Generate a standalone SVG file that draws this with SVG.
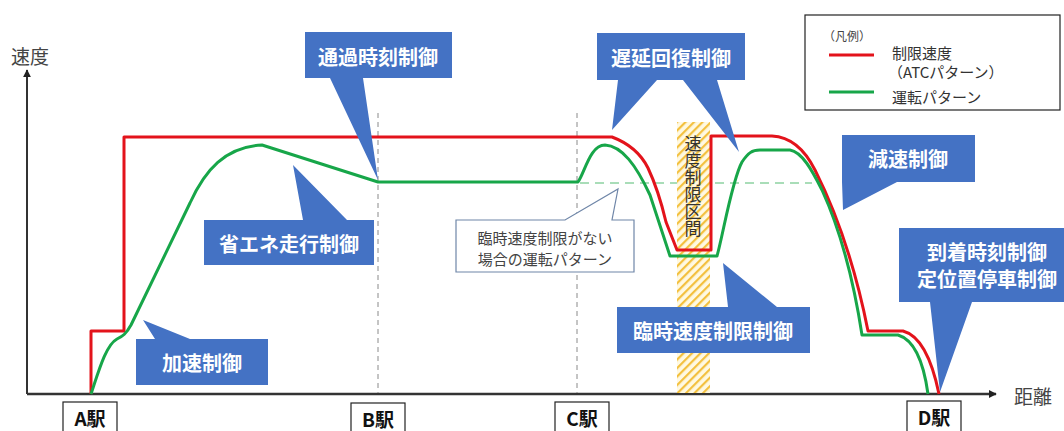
<svg xmlns="http://www.w3.org/2000/svg" width="1064" height="431" viewBox="0 0 1064 431">
<style>
.jp{font-family:"Noto Sans CJK JP","Noto Sans",sans-serif}
.co{fill:#4472C4}
.cot{fill:#fff;font-size:20px;font-weight:bold;text-anchor:middle;dominant-baseline:central}
.red{fill:none;stroke:#E3131B;stroke-width:3;stroke-linejoin:round}
.grn{fill:none;stroke:#17A649;stroke-width:3;stroke-linejoin:round}
.vd{stroke:#8a8a8a;stroke-width:1;stroke-dasharray:5,4}
.st{fill:#fff;stroke:#222;stroke-width:1.2}
.stt{fill:#111;font-size:19px;font-weight:bold;text-anchor:middle;dominant-baseline:central}
.lg{fill:#333;font-size:15px;dominant-baseline:central}
</style>
<defs>
<pattern id="hatch" width="6" height="6" patternUnits="userSpaceOnUse" patternTransform="rotate(45)">
<rect width="6" height="6" fill="#FFF9E2"/>
<rect width="2.2" height="6" fill="#F3C03E"/>
</pattern>
<marker id="arr" viewBox="0 0 10 10" refX="9" refY="5" markerWidth="8" markerHeight="8" markerUnits="userSpaceOnUse" orient="auto">
<path d="M0,0 L10,5 L0,10 Z" fill="#222"/>
</marker>
</defs>
<rect width="1064" height="431" fill="#fff"/>

<g id="axes">
<line x1="27" y1="394" x2="27" y2="70" stroke="#333" stroke-width="2" marker-end="url(#arr)"/>
<line x1="27" y1="394" x2="996" y2="394" stroke="#333" stroke-width="2.5" marker-end="url(#arr)"/>
<text class="jp" x="30" y="55" font-size="19" fill="#444" text-anchor="middle" dominant-baseline="central">速度</text>
<text class="jp" x="1033" y="395" font-size="19" fill="#444" text-anchor="middle" dominant-baseline="central">距離</text>
</g>

<g id="guides">
<line class="vd" x1="378" y1="113" x2="378" y2="393"/>
<line class="vd" x1="577" y1="113" x2="577" y2="393"/>
<line x1="580" y1="183" x2="812" y2="183" stroke="#A9DDB8" stroke-width="2" stroke-dasharray="9,6"/>
</g>

<g id="speed-limit-zone">
<rect x="677" y="122" width="33" height="271" fill="url(#hatch)"/>
<text class="jp" x="693" y="135" font-size="17" fill="#333" style="writing-mode:vertical-rl">速度制限区間</text>
</g>

<g id="connectors">
<path class="red" d="M91,394 L91,331 L124,331 L124,137 L612,137 C628,143 640,152 648,168 C656,185 662,205 666,222 L677,250 L711,250 L711,136 L772,136 C792,137 805,150 815,170 C835,210 855,265 868,331 L903,331 C922,336 933,365 939,394"/>
<path class="grn" d="M91,394 C99,370 106,345 117,339 C123,336 126,334 131,325 L190,203 C205,170 225,147 262,145 L378,182 L578,182 C585,172 590,145 605,145 C622,146 636,165 650,195 L670,256 L717,256 C723,235 732,180 742,162 C748,153 752,150 760,150 L790,150 C802,152 812,170 822,190 C838,225 852,270 862,335 L898,335 C915,340 924,365 928,394"/>
</g>

<g id="legend">
<rect x="805" y="15" width="255" height="95" fill="#fff" stroke="#222" stroke-width="1.2"/>
<text class="jp" x="823" y="35" font-size="12" fill="#444" dominant-baseline="central">（凡例）</text>
<line x1="829" y1="55" x2="874" y2="55" stroke="#E3131B" stroke-width="3"/>
<text class="jp lg" x="892" y="52">制限速度</text>
<text class="jp lg" x="888" y="71">（ATCパターン）</text>
<line x1="829" y1="92" x2="874" y2="92" stroke="#17A649" stroke-width="3"/>
<text class="jp lg" x="892" y="96">運転パターン</text>
</g>

<g id="callout-tsuka">
<path class="co" d="M305,32 H452 V78 H363 L378,180 L330,78 H305 Z"/>
<text class="jp cot" x="378" y="56">通過時刻制御</text>
</g>
<g id="callout-chien">
<path class="co" d="M597,33 H745 V80 H717 L739,152 L683,80 H657 L612,130 L618,80 H597 Z"/>
<text class="jp cot" x="671" y="57">遅延回復制御</text>
</g>
<g id="callout-shoene">
<path class="co" d="M204,220 H303 L293,165 L347,220 H374 V265 H204 Z"/>
<text class="jp cot" x="289" y="243">省エネ走行制御</text>
</g>
<g id="callout-kasoku">
<path class="co" d="M136,339 H155 L143,320 L190,339 H268 V385 H136 Z"/>
<text class="jp cot" x="202" y="362">加速制御</text>
</g>
<g id="callout-gensoku">
<path class="co" d="M842,135 H975 V182 H897 L843,210 L842,182 Z"/>
<text class="jp cot" x="908" y="158">減速制御</text>
</g>
<g id="callout-teii">
<path class="co" d="M899,228 H1064 V302 H972 L940,392 L930,302 H899 Z"/>
<text class="jp cot" x="987" y="251"><tspan x="987" y="251">到着時刻制御</tspan><tspan x="987" y="278">定位置停車制御</tspan></text>
</g>
<g id="callout-rinji">
<path class="co" d="M617,307 H728 L723,263 L777,307 H810 V353 H617 Z"/>
<text class="jp cot" x="713" y="330">臨時速度制限制御</text>
</g>
<g id="callout-nashi">
<path d="M456,220 H565 L618,189 L612,220 H634 V272 H456 Z" fill="#fff" stroke="#6F86A8" stroke-width="1.2"/>
<text class="jp" x="545" y="237" font-size="15" fill="#444" text-anchor="middle" dominant-baseline="central"><tspan x="545" y="237">臨時速度制限がない</tspan><tspan x="545" y="258">場合の運転パターン</tspan></text>
</g>

<g id="station-a">
<rect class="st" x="63" y="402" width="54" height="34"/>
<text class="jp stt" x="90" y="417">A駅</text>
</g>
<g id="station-b">
<rect class="st" x="351" y="403" width="54" height="34"/>
<text class="jp stt" x="378" y="418">B駅</text>
</g>
<g id="station-c">
<rect class="st" x="555" y="402" width="54" height="34"/>
<text class="jp stt" x="582" y="417">C駅</text>
</g>
<g id="station-d">
<rect class="st" x="907" y="401" width="54" height="34"/>
<text class="jp stt" x="934" y="416">D駅</text>
</g>
</svg>
